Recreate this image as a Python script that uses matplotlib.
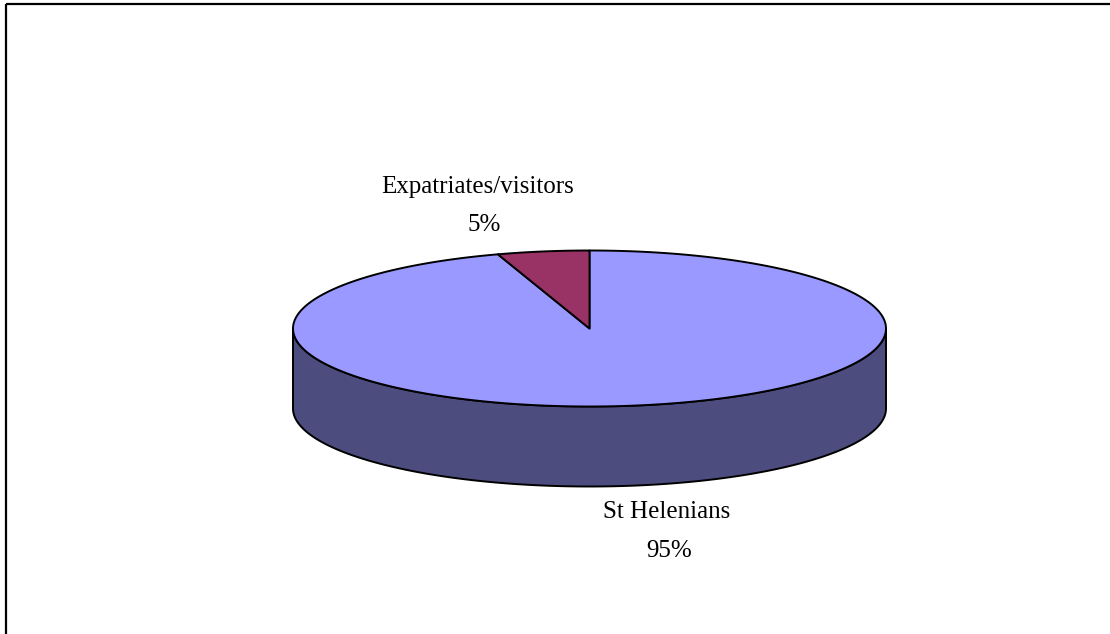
import numpy as np
import matplotlib.pyplot as plt
from matplotlib.patches import Polygon, Rectangle

labels = ['St Helenians', 'Expatriates/visitors']
values = [95, 5]
top_colors = ['#9999FF', '#993366']
side_colors = ['#4C4C7F', '#4D1A33']

# pie geometry in pixels
cx, cy = 589.5, 328.5
rx, ry = 296.5, 78.0
depth = 80.0
start = 90.0

# (label x, label y, percent x, percent y)
label_pos = {'St Helenians': (667, 512, 669, 551),
             'Expatriates/visitors': (478, 187, 484, 225)}


def ell(th):
    th = np.radians(th)
    return cx + rx * np.cos(th), cy - ry * np.sin(th)


fig = plt.figure(figsize=(11.1, 6.34), dpi=100)
ax = fig.add_axes([0, 0, 1, 1])
ax.set_xlim(0, 1110)
ax.set_ylim(634, 0)
ax.axis('off')

ax.add_patch(Rectangle((5.5, 3.5), 1200, 700, fill=False, lw=1.6, ec='black'))

total = float(sum(values))
angles = []
a0 = start
for v in values:
    a1 = a0 - v / total * 360.0  # clockwise like Excel
    angles.append((a1, a0))
    a0 = a1

# side walls (front half: angles 180..360)
for (lo, hi), sc in zip(angles, side_colors):
    for k in (-1, 0, 1):
        f_lo, f_hi = 180 + 360 * k, 360 + 360 * k
        s, e = max(lo, f_lo), min(hi, f_hi)
        if e <= s:
            continue
        th = np.linspace(s, e, 200)
        x, y = ell(th)
        pts = np.concatenate([np.column_stack([x, y]),
                              np.column_stack([x[::-1], y[::-1] + depth])])
        ax.add_patch(Polygon(pts, closed=True, fc=sc, ec='black', lw=1.4,
                             joinstyle='round'))

# top faces
for (lo, hi), tc in zip(angles, top_colors):
    th = np.linspace(lo, hi, 400)
    x, y = ell(th)
    pts = np.concatenate([[[cx, cy]], np.column_stack([x, y])])
    ax.add_patch(Polygon(pts, closed=True, fc=tc, ec='black', lw=1.4,
                         joinstyle='round'))

for lab, v in zip(labels, values):
    lx, ly, px, py = label_pos[lab]
    ax.text(lx, ly, lab, family='Liberation Serif', fontsize=18,
            ha='center', va='center')
    ax.text(px, py, f'{v / total * 100:.0f}%', family='Liberation Serif',
            fontsize=18, ha='center', va='center')

fig.savefig('out.png', dpi=100)
